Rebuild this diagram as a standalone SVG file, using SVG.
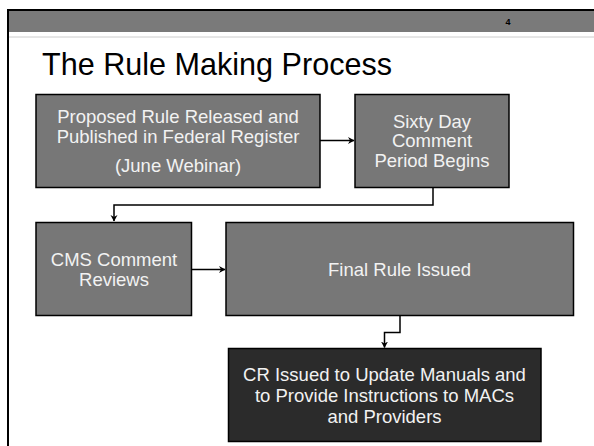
<svg xmlns="http://www.w3.org/2000/svg" width="594" height="446" viewBox="0 0 594 446">
  <defs>
    <style>
      .box { fill: #777777; stroke: #000; stroke-width: 1.5; }
      .box-dark { fill: #2b2b2b; stroke: #000; stroke-width: 1.5; }
      .label { font-family: "Liberation Sans", Arial, sans-serif; font-size: 18.5px; fill: #f2f2f2; text-anchor: middle; }
      .conn { fill: none; stroke: #000; stroke-width: 1.5; }
    </style>
    <marker id="arrow" markerWidth="8" markerHeight="8" refX="6" refY="4" orient="auto" markerUnits="userSpaceOnUse">
      <path d="M0,0.5 L6.5,4 L0,7.5 L2,4 Z" fill="#000"/>
    </marker>
  </defs>

  <rect width="594" height="446" fill="#fff"/>

  <!-- slide frame and header band -->
  <g id="frame">
    <rect x="8" y="10" width="586" height="22" fill="#7a7a7a"/>
    <line x1="7" y1="10" x2="594" y2="10" stroke="#000" stroke-width="2"/>
    <line x1="8" y1="9" x2="8" y2="446" stroke="#000" stroke-width="2"/>
    <line x1="9" y1="37" x2="594" y2="37" stroke="#cccccc" stroke-width="1"/>
    <text x="508" y="24.5" font-family="Liberation Sans, Arial, sans-serif" font-size="9" font-weight="bold" fill="#000" text-anchor="middle">4</text>
  </g>

  <text id="title" x="42" y="75" font-family="Liberation Sans, Arial, sans-serif" font-size="32" fill="#000" textLength="350" lengthAdjust="spacingAndGlyphs">The Rule Making Process</text>

  <!-- connectors -->
  <g id="connectors">
    <line class="conn" x1="320" y1="140.5" x2="354" y2="140.5" marker-end="url(#arrow)"/>
    <polyline class="conn" points="433,187 433,205 114,205 114,221" marker-end="url(#arrow)"/>
    <line class="conn" x1="191.5" y1="269.5" x2="225" y2="269.5" marker-end="url(#arrow)"/>
    <polyline class="conn" points="400,316 400,332.5 384.5,332.5 384.5,347.5" marker-end="url(#arrow)"/>
  </g>

  <g id="proposed-rule">
    <rect class="box" x="36" y="94.5" width="284" height="93"/>
    <text class="label" x="178" y="123">Proposed Rule Released and</text>
    <text class="label" x="178" y="143">Published in Federal Register</text>
    <text class="label" x="178" y="172">(June Webinar)</text>
  </g>

  <g id="comment-period">
    <rect class="box" x="355" y="94.5" width="154" height="93"/>
    <text class="label" x="432" y="128">Sixty Day</text>
    <text class="label" x="432" y="147">Comment</text>
    <text class="label" x="432" y="167">Period Begins</text>
  </g>

  <g id="comment-reviews">
    <rect class="box" x="36" y="222.5" width="155.5" height="93"/>
    <text class="label" x="114" y="265.5">CMS Comment</text>
    <text class="label" x="114" y="285.5">Reviews</text>
  </g>

  <g id="final-rule">
    <rect class="box" x="226" y="222.5" width="347.5" height="93"/>
    <text class="label" x="399.5" y="275.5">Final Rule Issued</text>
  </g>

  <g id="cr-issued">
    <rect class="box-dark" x="228.5" y="348.5" width="312.5" height="93"/>
    <text class="label" x="384.5" y="380.5">CR Issued to Update Manuals and</text>
    <text class="label" x="384.5" y="401.5">to Provide Instructions to MACs</text>
    <text class="label" x="384.5" y="422.5">and Providers</text>
  </g>
</svg>
